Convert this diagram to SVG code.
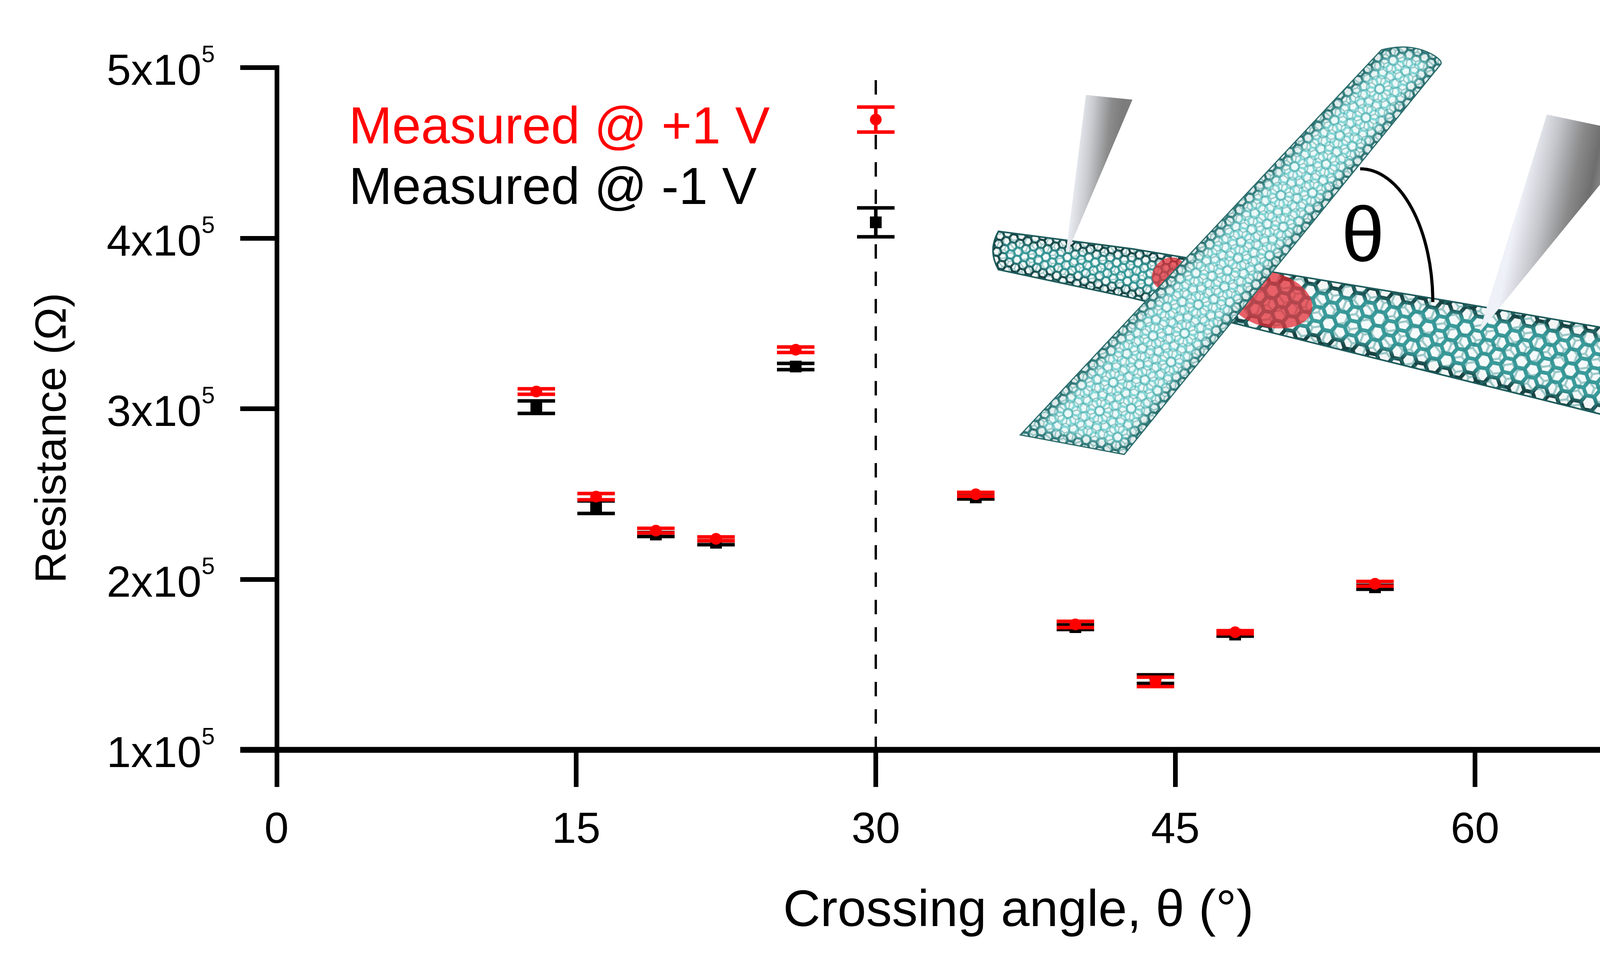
<svg xmlns="http://www.w3.org/2000/svg" width="4733" height="2444" viewBox="0 0 4733 2444">
<style>
.ax{stroke:#000;stroke-width:12;fill:none}
.xa{stroke:#000;stroke-width:15;fill:none}
.t{font-family:"Liberation Sans",Arial,sans-serif;fill:#000}
.tl{font-size:112px}
.sup{font-size:61px}
.eb{fill:none;stroke-width:9}
.r{stroke:#ff0000}
.k{stroke:#000}
</style>
<defs>
<filter id="bl" x="-5%" y="-5%" width="110%" height="110%"><feGaussianBlur stdDeviation="9"/></filter>
<path id="hx" d="M7.3,0 3.65,6.32 -3.65,6.32 -7.3,0 -3.65,-6.32 3.65,-6.32Z"/>
<g id="hcell"><use href="#hx"/><use href="#hx" x="30"/><use href="#hx" y="17.32"/><use href="#hx" x="30" y="17.32"/><use href="#hx" x="15" y="8.66"/></g>
<path id="hlines" d="M10,0H20M10,17.32H20M10,0L5,8.66L10,17.32M20,0L25,8.66L20,17.32M0,8.66H5M25,8.66H30" fill="none" stroke-width="2.6"/>
<pattern id="pHL" patternUnits="userSpaceOnUse" width="30" height="17.32" patternTransform="rotate(11) scale(1.2)"><use href="#hcell" fill="#ffffff"/></pattern>
<pattern id="pHR" patternUnits="userSpaceOnUse" width="30" height="17.32" patternTransform="rotate(11) scale(2.1)"><use href="#hcell" fill="#ffffff"/></pattern>
<pattern id="bHL" patternUnits="userSpaceOnUse" width="30" height="17.32" patternTransform="translate(4,3) rotate(-8) scale(1.2)"><use href="#hlines" stroke="#2f8a8a"/></pattern>
<pattern id="bHR" patternUnits="userSpaceOnUse" width="30" height="17.32" patternTransform="translate(9,5) rotate(-8) scale(2.1)"><use href="#hlines" stroke="#2f8a8a"/></pattern>
<pattern id="pD" patternUnits="userSpaceOnUse" width="30" height="17.32" patternTransform="rotate(-49) scale(1.3)"><use href="#hcell" fill="#ffffff"/></pattern>
<pattern id="bD" patternUnits="userSpaceOnUse" width="30" height="17.32" patternTransform="translate(5,2) rotate(-20) scale(1.3)"><use href="#hlines" stroke="#3d9494"/></pattern>
<path id="Hshape" d="M2556,592 L2900,637 L3700,769 L4146,846 L4146,1072 L2900,763 L2556,690 Q2528,641 2556,592Z"/>
<path id="Dshape" d="M3536,128 Q3610,108 3668,140 Q3695,156 3688,165 L2878,1163 L2612,1113 Z"/>
<clipPath id="cH"><use href="#Hshape"/></clipPath>
<clipPath id="cD"><use href="#Dshape"/></clipPath>
<clipPath id="cHL"><polygon points="2400,0 3709,0 2665,1200 2400,1200"/></clipPath>
<clipPath id="cHR"><polygon points="3709,0 4300,0 4300,1200 2665,1200"/></clipPath>
<linearGradient id="gL" gradientUnits="userSpaceOnUse" x1="2745" y1="420" x2="2860" y2="430">
<stop offset="0" stop-color="#eef1f7"/><stop offset="0.35" stop-color="#c9cbd0"/><stop offset="0.75" stop-color="#8c8c8c"/><stop offset="1" stop-color="#7c7c7c"/></linearGradient>
<linearGradient id="gR" gradientUnits="userSpaceOnUse" x1="3880" y1="560" x2="4080" y2="600">
<stop offset="0" stop-color="#eef1f7"/><stop offset="0.3" stop-color="#c4c6cc"/><stop offset="0.62" stop-color="#8a8a8a"/><stop offset="0.85" stop-color="#6e6e6e"/><stop offset="1" stop-color="#8e8e8e"/></linearGradient>
<circle id="mr" r="15" fill="#ff0000"/>
<rect id="mk" x="-15" y="-15" width="30" height="30" fill="#000"/>
</defs>
<rect width="4733" height="2444" fill="#fff"/>

<g id="inset">
 <g id="tube-horizontal">
  <g clip-path="url(#cH)">
   <use href="#Hshape" fill="#3a9b9b"/>
   <use href="#Hshape" fill="none" stroke="#143f3f" stroke-width="50" filter="url(#bl)"/>
   <g clip-path="url(#cHL)"><rect x="2450" y="500" width="1800" height="650" fill="url(#pHL)" opacity="0.95"/><rect x="2450" y="500" width="1800" height="650" fill="url(#bHL)" opacity="0.45"/></g>
   <g clip-path="url(#cHR)"><rect x="2450" y="500" width="1800" height="650" fill="url(#pHR)" opacity="0.95"/><rect x="2450" y="500" width="1800" height="650" fill="url(#bHR)" opacity="0.45"/></g>
  </g>
  <use href="#Hshape" fill="none" stroke="#1d5a5a" stroke-width="4"/>
 </g>
 <g id="contact-patches" clip-path="url(#cH)" fill="#e3262f" fill-opacity="0.72">
  <ellipse cx="3250" cy="767" rx="112" ry="70" transform="rotate(15 3250 767)"/>
  <ellipse cx="2992" cy="700" rx="46" ry="38" transform="rotate(-40 2992 700)"/>
 </g>
 <g id="tube-diagonal">
  <g clip-path="url(#cD)">
   <use href="#Dshape" fill="#86d6d6"/>
   <use href="#Dshape" fill="none" stroke="#2a7070" stroke-width="44" filter="url(#bl)"/>
   <rect x="2550" y="90" width="1200" height="1100" fill="url(#pD)" opacity="0.85"/>
   <rect x="2550" y="90" width="1200" height="1100" fill="url(#bD)" opacity="0.5"/>
  </g>
  <use href="#Dshape" fill="none" stroke="#2a6a6a" stroke-width="3"/>
 </g>
 <g id="probe-left"><polygon points="2780,243 2899,255 2733,645 2729,645" fill="url(#gL)"/></g>
 <g id="probe-right"><polygon points="3960,293 4201,344 3792,845 3788,845" fill="url(#gR)"/></g>
 <g id="angle">
  <path d="M3482,432 A186,341 0 0 1 3668,773" fill="none" stroke="#000" stroke-width="8"/>
  <text class="t" x="3489" y="668" font-size="198" text-anchor="middle">θ</text>
 </g>
</g>

<g id="axes">
 <path class="ax" d="M709,167 V2014"/>
 <path class="ax" d="M615,173 H709 M615,610 H709 M615,1046 H709 M615,1483 H709"/>
 <path class="xa" d="M615,1919 H4549"/>
 <path class="ax" d="M1475,1919 V2014 M2242,1919 V2014 M3009,1919 V2014 M3776,1919 V2014 M4543,1919 V2014"/>
</g>
<g id="y-tick-labels" class="t tl">
 <text x="273" y="217">5x10<tspan class="sup" dy="-58">5</tspan></text>
 <text x="273" y="654">4x10<tspan class="sup" dy="-58">5</tspan></text>
 <text x="273" y="1090">3x10<tspan class="sup" dy="-58">5</tspan></text>
 <text x="273" y="1527">2x10<tspan class="sup" dy="-58">5</tspan></text>
 <text x="273" y="1963">1x10<tspan class="sup" dy="-58">5</tspan></text>
</g>
<g id="x-tick-labels" class="t tl" text-anchor="middle">
 <text x="708" y="2157">0</text>
 <text x="1475" y="2157">15</text>
 <text x="2242" y="2157">30</text>
 <text x="3009" y="2157">45</text>
 <text x="3776" y="2157">60</text>
 <text x="4543" y="2157">75</text>
</g>
<text id="x-label" class="t" x="2607" y="2370" font-size="132" text-anchor="middle">Crossing angle, θ (°)</text>
<text id="y-label" class="t" font-size="112" text-anchor="middle" transform="translate(168,1121) rotate(-90)">Resistance (Ω)</text>

<g id="legend" class="t" font-size="133">
 <text x="893" y="367" style="fill:#ff0000">Measured @ +1 V</text>
 <text x="893" y="522">Measured @ -1 V</text>
</g>

<path id="ref-line-30" d="M2242,205 V1919" fill="none" stroke="#000" stroke-width="6" stroke-dasharray="37 33"/>

<g id="series-minus1V">
 <path class="eb k" d="M1325,1026H1421M1373,1026V1058M1325,1058H1421 M1478,1282H1574M1526,1282V1314M1478,1314H1574 M1631,1363H1727M1679,1363V1373M1631,1373H1727 M1785,1384H1881M1833,1384V1394M1785,1394H1881 M1989,930H2085M2037,930V946M1989,946H2085 M2194,532H2290M2242,532V606M2194,606H2290 M2450,1269H2546M2498,1269V1277M2450,1277H2546 M2705,1599H2801M2753,1599V1611M2705,1611H2801 M2910,1727H3006M2958,1727V1749M2910,1749H3006 M3114,1620H3210M3162,1620V1628M3114,1628H3210 M3472,1498H3568M3520,1498V1508M3472,1508H3568"/>
 <use href="#mk" x="1373" y="1042"/><use href="#mk" x="1526" y="1298"/><use href="#mk" x="1679" y="1368"/><use href="#mk" x="1833" y="1389"/><use href="#mk" x="2037" y="938"/><use href="#mk" x="2242" y="569"/><use href="#mk" x="2498" y="1273"/><use href="#mk" x="2753" y="1605"/><use href="#mk" x="2958" y="1738"/><use href="#mk" x="3162" y="1624"/><use href="#mk" x="3520" y="1503"/>
</g>
<g id="series-plus1V">
 <path class="eb r" d="M1325,995H1421M1373,995V1009M1325,1009H1421 M1478,1263H1574M1526,1263V1279M1478,1279H1574 M1631,1352H1727M1679,1352V1364M1631,1364H1727 M1785,1374H1881M1833,1374V1384M1785,1384H1881 M1989,888H2085M2037,888V902M1989,902H2085 M2194,274H2290M2242,274V338M2194,338H2290 M2450,1260H2546M2498,1260V1270M2450,1270H2546 M2705,1590H2801M2753,1590V1606M2705,1606H2801 M2910,1733H3006M2958,1733V1757M2910,1757H3006 M3114,1614H3210M3162,1614V1622M3114,1622H3210 M3472,1488H3568M3520,1488V1500M3472,1500H3568"/>
 <use href="#mr" x="1373" y="1002"/><use href="#mr" x="1526" y="1271"/><use href="#mr" x="1679" y="1358"/><use href="#mr" x="1833" y="1379"/><use href="#mr" x="2037" y="895"/><use href="#mr" x="2242" y="306"/><use href="#mr" x="2498" y="1265"/><use href="#mr" x="2753" y="1598"/><use href="#mr" x="2958" y="1745"/><use href="#mr" x="3162" y="1618"/><use href="#mr" x="3520" y="1494"/>
</g>
</svg>
